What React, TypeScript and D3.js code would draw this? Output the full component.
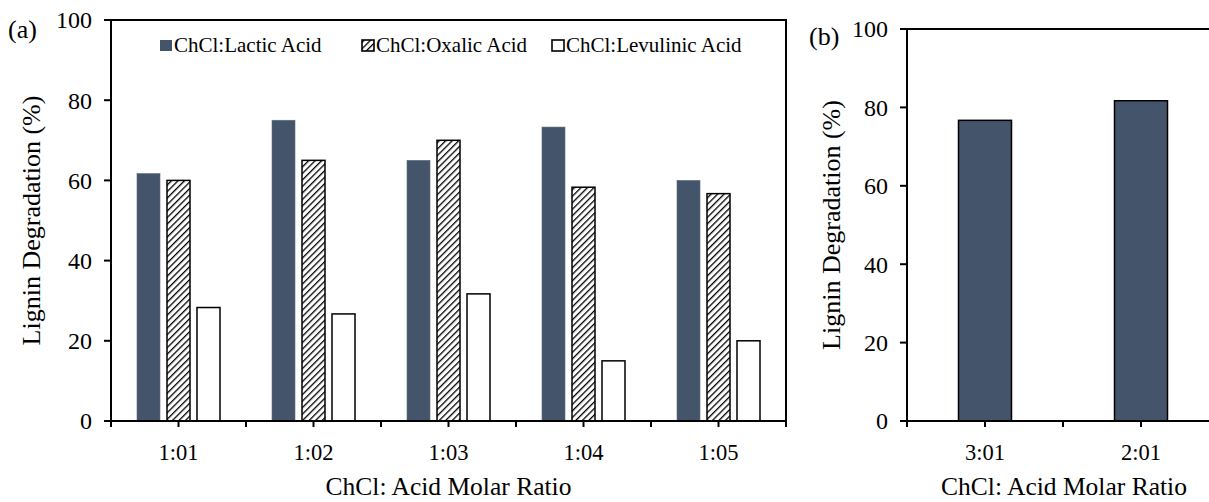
import React from 'react';
import * as d3 from 'd3';

const ratiosA = ['1:01', '1:02', '1:03', '1:04', '1:05'];
const seriesNames = ['ChCl:Lactic Acid', 'ChCl:Oxalic Acid', 'ChCl:Levulinic Acid'];
const lactic = [61.7, 75, 65, 73.3, 60];
const oxalic = [60, 65, 70, 58.3, 56.7];
const levulinic = [28.3, 26.7, 31.7, 15, 20];

const ratiosB = ['3:01', '2:01'];
const valuesB = [76.7, 81.7];

const yTicks = [0, 20, 40, 60, 80, 100];

const FONT = '"Liberation Serif", "Times New Roman", serif';
const SLATE = '#44546A';

const App: React.FC = () => {
  const W = 1209;
  const H = 502;

  // panel (a)
  const xA = d3.scaleBand<string>().domain(ratiosA).range([111, 786]);
  const bwA = xA.bandwidth();
  const xSub = d3.scaleBand<string>()
    .domain(seriesNames)
    .range([bwA / 2 - 41.5, bwA / 2 + 41.5])
    .paddingInner(7 / 30);
  const yA = d3.scaleLinear().domain([0, 100]).range([421, 20]);
  const seriesVals = [lactic, oxalic, levulinic];

  // panel (b)
  const xB = d3.scaleBand<string>().domain(ratiosB).range([907, 1219]);
  const bwB = xB.bandwidth();
  const yB = d3.scaleLinear().domain([0, 100]).range([421, 29]);
  const barB = 53;

  const fillFor = (i: number) => (i === 0 ? SLATE : i === 1 ? 'url(#hatch)' : '#ffffff');

  return (
    <svg width={W} height={H} style={{ position: 'absolute', left: 0, top: 0 }} fontFamily={FONT}>
      <defs>
        <pattern id="hatch" patternUnits="userSpaceOnUse" width={4.6} height={4.6} patternTransform="rotate(45)">
          <rect width={4.6} height={4.6} fill="#fff" />
          <line x1={0} y1={0} x2={0} y2={4.6} stroke="#000" strokeWidth={2.6} />
        </pattern>
      </defs>
      <rect width={W} height={H} fill="#fff" />

      {/* ---------- panel (a) ---------- */}
      {ratiosA.map((r, ci) =>
        seriesNames.map((s, si) => {
          const v = seriesVals[si][ci];
          const x0 = (xA(r) as number) + (xSub(s) as number);
          return (
            <rect
              key={r + s}
              x={x0}
              y={yA(v)}
              width={xSub.bandwidth()}
              height={yA(0) - yA(v)}
              fill={fillFor(si)}
              stroke={si === 0 ? '#5b6b80' : '#000'}
              strokeWidth={si === 0 ? 0.6 : 1.5}
            />
          );
        })
      )}
      {/* frame */}
      <line x1={104} x2={787} y1={yA(100)} y2={yA(100)} stroke="#000" strokeWidth={2} />
      <line x1={786} x2={786} y1={yA(100)} y2={yA(0) + 6} stroke="#000" strokeWidth={2} />
      <line x1={111} x2={111} y1={yA(100)} y2={yA(0) + 6} stroke="#000" strokeWidth={2} />
      <line x1={104} x2={787} y1={yA(0)} y2={yA(0)} stroke="#000" strokeWidth={2} />
      {yTicks.map((t) => (
        <g key={'ya' + t}>
          <line x1={104} x2={111} y1={yA(t)} y2={yA(t)} stroke="#000" strokeWidth={2} />
          <text x={92} y={yA(t)} dy="0.35em" textAnchor="end" fontSize={24}>{t}</text>
        </g>
      ))}
      {ratiosA.map((r) => {
        const x0 = xA(r) as number;
        return (
          <g key={'xa' + r}>
            <line x1={x0 + bwA} x2={x0 + bwA} y1={yA(0)} y2={yA(0) + 6} stroke="#000" strokeWidth={2} />
            <line x1={x0 + bwA / 2} x2={x0 + bwA / 2} y1={yA(0)} y2={yA(0) + 6} stroke="#000" strokeWidth={2} />
            <text x={x0 + bwA / 2} y={460} textAnchor="middle" fontSize={22.5}>{r}</text>
          </g>
        );
      })}
      <text x={(111 + 786) / 2} y={495} textAnchor="middle" fontSize={25.5}>ChCl: Acid Molar Ratio</text>
      <text transform={`translate(40,${(yA(0) + yA(100)) / 2}) rotate(-90)`} textAnchor="middle" fontSize={26}>
        Lignin Degradation (%)
      </text>
      <text x={8} y={38} fontSize={26}>(a)</text>

      {/* legend */}
      {seriesNames.map((s, i) => {
        const lx = [160, 362, 552][i];
        return (
          <g key={'lg' + s}>
            <rect x={lx} y={40} width={12} height={11} fill={fillFor(i)}
              stroke={i === 0 ? 'none' : '#000'} strokeWidth={1.6} />
            <text x={lx + 14} y={52} fontSize={21}>{s}</text>
          </g>
        );
      })}

      {/* ---------- panel (b) ---------- */}
      {ratiosB.map((r, i) => {
        const cx = (xB(r) as number) + bwB / 2;
        return (
          <rect key={'bb' + r} x={cx - barB / 2} y={yB(valuesB[i])} width={barB}
            height={yB(0) - yB(valuesB[i])} fill={SLATE} stroke="#000" strokeWidth={1.5} />
        );
      })}
      <line x1={900} x2={W} y1={yB(100)} y2={yB(100)} stroke="#000" strokeWidth={2} />
      <line x1={907} x2={907} y1={yB(100)} y2={yB(0) + 6} stroke="#000" strokeWidth={2} />
      <line x1={900} x2={W} y1={yB(0)} y2={yB(0)} stroke="#000" strokeWidth={2} />
      {yTicks.map((t) => (
        <g key={'yb' + t}>
          <line x1={900} x2={907} y1={yB(t)} y2={yB(t)} stroke="#000" strokeWidth={2} />
          <text x={888} y={yB(t)} dy="0.35em" textAnchor="end" fontSize={24}>{t}</text>
        </g>
      ))}
      {ratiosB.map((r) => {
        const x0 = xB(r) as number;
        return (
          <g key={'xb' + r}>
            <line x1={x0 + bwB} x2={x0 + bwB} y1={yB(0)} y2={yB(0) + 6} stroke="#000" strokeWidth={2} />
            <line x1={x0 + bwB / 2} x2={x0 + bwB / 2} y1={yB(0)} y2={yB(0) + 6} stroke="#000" strokeWidth={2} />
            <text x={x0 + bwB / 2} y={460} textAnchor="middle" fontSize={22.5}>{r}</text>
          </g>
        );
      })}
      <text x={1064} y={495} textAnchor="middle" fontSize={25.5}>ChCl: Acid Molar Ratio</text>
      <text transform={`translate(840,${(yB(0) + yB(100)) / 2}) rotate(-90)`} textAnchor="middle" fontSize={26}>
        Lignin Degradation (%)
      </text>
      <text x={809} y={45} fontSize={26}>(b)</text>
    </svg>
  );
};

export default App;
